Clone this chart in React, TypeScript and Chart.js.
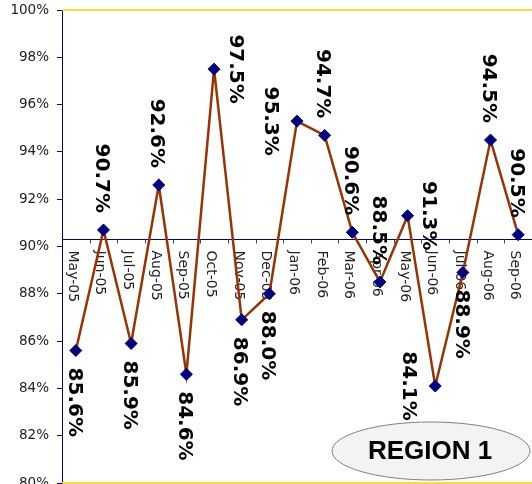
import React, { useEffect, useRef } from "react";
import { Chart, registerables } from "chart.js";

Chart.register(...registerables);

// Monthly rate, May 2005 – Sep 2006
const months = [
  "May-05", "Jun-05", "Jul-05", "Aug-05", "Sep-05", "Oct-05", "Nov-05", "Dec-05",
  "Jan-06", "Feb-06", "Mar-06", "Apr-06", "May-06", "Jun-06", "Jul-06", "Aug-06", "Sep-06",
];
const ratePct = [
  85.6, 90.7, 85.9, 92.6, 84.6, 97.5, 86.9, 88.0,
  95.3, 94.7, 90.6, 88.5, 91.3, 84.1, 88.9, 94.5, 90.5,
];
// Horizontal reference line where the category axis sits
const baselinePct = 90.3;
const yMin = 80;
const yMax = 100;
const yStep = 2;
const regionName = "REGION 1";

// Which side of each point its value label sits on
const labelSides = [
  "below", "above", "below", "above", "below", "right", "below", "below",
  "left", "above", "above", "above", "right", "left", "below", "above", "above",
];

const NAVY = "#000080";
const LINE = "#993300";
const GOLD = "#FFCC00";

const decor = {
  id: "decor",
  beforeDatasetsDraw(chart: any) {
    const { ctx, chartArea: a, scales } = chart;
    const x = scales.x;
    const y = scales.y;
    ctx.save();

    // gold rules at the top and bottom of the value range
    ctx.strokeStyle = GOLD;
    ctx.lineWidth = 1.5;
    ctx.lineCap = "butt";
    for (const v of [yMax, yMin]) {
      const py = y.getPixelForValue(v);
      ctx.beginPath();
      ctx.moveTo(a.left, py);
      ctx.lineTo(a.right, py);
      ctx.stroke();
    }

    // category axis crossing at the reference value
    const by = Math.round(y.getPixelForValue(baselinePct)) + 0.5;
    ctx.strokeStyle = NAVY;
    ctx.lineWidth = 1;
    ctx.beginPath();
    ctx.moveTo(a.left, by);
    ctx.lineTo(a.right, by);
    ctx.stroke();

    const w = x.getPixelForValue(1) - x.getPixelForValue(0);
    ctx.strokeStyle = "#3a3aa0";
    ctx.beginPath();
    for (let i = 0; i < months.length - 1; i++) {
      const bx = Math.round(x.getPixelForValue(i) + w / 2) + 0.5;
      ctx.moveTo(bx, by);
      ctx.lineTo(bx, by + 4);
    }
    ctx.stroke();

    // month names, turned to read downward
    ctx.font = '14px "DejaVu Sans"';
    ctx.fillStyle = "#222";
    ctx.textAlign = "left";
    ctx.textBaseline = "alphabetic";
    months.forEach((m, i) => {
      const px = x.getPixelForValue(i);
      ctx.save();
      ctx.translate(px - 7, by + 11);
      ctx.rotate(Math.PI / 2);
      ctx.fillText(m, 0, 0);
      ctx.restore();
    });
    ctx.restore();
  },
  afterDatasetsDraw(chart: any) {
    const { ctx } = chart;
    const meta = chart.getDatasetMeta(0);
    const size = 20;
    const lift = 0.365 * size;
    ctx.save();
    ctx.font = `bold ${size}px "DejaVu Sans"`;
    ctx.fillStyle = "#000";
    ctx.textBaseline = "alphabetic";
    meta.data.forEach((pt: any, i: number) => {
      const text = ratePct[i].toFixed(1) + "%";
      const side = labelSides[i];
      let tx = pt.x - lift;
      let ty = pt.y;
      let align: CanvasTextAlign = "center";
      if (side === "below") {
        ty = pt.y + 17;
        align = "left";
      } else if (side === "above") {
        ty = pt.y - 17;
        align = "right";
      } else if (side === "right") {
        tx = pt.x + 23 - lift;
      } else {
        tx = pt.x - 25 - lift;
      }
      ctx.save();
      ctx.translate(tx, ty);
      ctx.rotate(Math.PI / 2);
      ctx.textAlign = align;
      ctx.fillText(text, 0, 0);
      ctx.restore();
    });
    ctx.restore();
  },
  afterDraw(chart: any) {
    const { ctx, chartArea: a } = chart;
    const cx = a.right - 101;
    const cy = a.bottom - 32;
    ctx.save();
    ctx.beginPath();
    ctx.ellipse(cx, cy, 99, 29, 0, 0, Math.PI * 2);
    ctx.fillStyle = "#f3f3f3";
    ctx.fill();
    ctx.strokeStyle = "#7f7f7f";
    ctx.lineWidth = 1;
    ctx.stroke();
    ctx.font = 'bold 26px "Liberation Sans"';
    ctx.fillStyle = "#000";
    ctx.textAlign = "center";
    ctx.textBaseline = "middle";
    ctx.fillText(regionName, cx - 1, cy + 1);
    ctx.restore();
  },
};

const noPadding = (scale: any) => {
  scale.paddingTop = 0;
  scale.paddingBottom = 0;
  scale.paddingLeft = 0;
  scale.paddingRight = 0;
};

export default function App() {
  const ref = useRef<HTMLCanvasElement | null>(null);

  useEffect(() => {
    if (!ref.current) return;
    Chart.defaults.font.family = "DejaVu Sans";
    const chart = new Chart(ref.current, {
      type: "line",
      data: {
        labels: months,
        datasets: [
          {
            data: ratePct,
            borderColor: LINE,
            borderWidth: 2.5,
            pointStyle: "rectRot",
            pointRadius: 6,
            pointBackgroundColor: NAVY,
            pointBorderColor: NAVY,
            pointBorderWidth: 1,
            tension: 0,
            clip: false as any,
          },
        ],
      },
      options: {
        responsive: false,
        animation: false,
        layout: {
          autoPadding: false,
          padding: { top: 10, right: 0, bottom: 1, left: 0 },
        },
        plugins: {
          legend: { display: false },
          tooltip: { enabled: false },
        },
        scales: {
          x: { type: "category", offset: true, display: false, afterFit: noPadding },
          y: {
            min: yMin,
            max: yMax,
            afterFit: (scale: any) => {
              scale.width = 62;
              noPadding(scale);
            },
            grid: {
              drawOnChartArea: false,
              drawTicks: true,
              tickLength: 5,
              color: NAVY,
            },
            border: { color: NAVY, width: 1 },
            ticks: {
              stepSize: yStep,
              padding: 8,
              color: "#222",
              font: { family: "DejaVu Sans", size: 13.5 },
              callback: (v: any) => `${v}%`,
            },
          },
        },
      },
      plugins: [decor],
    });
    return () => chart.destroy();
  }, []);

  return (
    <div style={{ position: "absolute", left: 0, top: 0, width: 532, height: 484 }}>
      <canvas ref={ref} width={532} height={484} />
    </div>
  );
}
